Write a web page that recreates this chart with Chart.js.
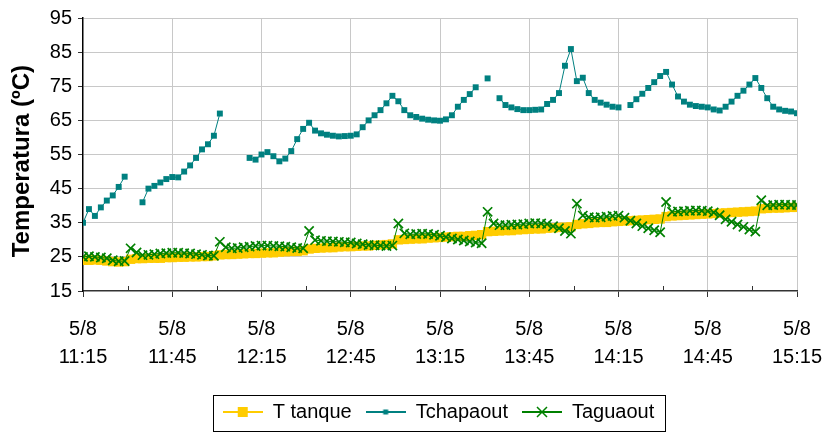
<!DOCTYPE html>
<html><head><meta charset="utf-8">
<script src="https://cdn.jsdelivr.net/npm/chart.js@4"></script>
<style>html,body{margin:0;padding:0;background:#fff}canvas{display:block}</style>
</head><body>
<canvas id="c" width="824" height="432"></canvas>
<script>
// minutes after 11:15 on 5/8
const minutes = [
  0,2,4,6,8,10,12,14,16,18,
  20,22,24,26,28,30,32,34,36,38,
  40,42,44,46,48,50,52,54,56,58,
  60,62,64,66,68,70,72,74,76,78,
  80,82,84,86,88,90,92,94,96,98,
  100,102,104,106,108,110,112,114,116,118,
  120,122,124,126,128,130,132,134,136,138,
  140,142,144,146,148,150,152,154,156,158,
  160,162,164,166,168,170,172,174,176,178,
  180,182,184,186,188,190,192,194,196,198,
  200,202,204,206,208,210,212,214,216,218,
  220,222,224,226,228,230,232,234,236,238,
  240
];
const dateLabel = '5/8';
const timeLabels = ['11:15','11:45','12:15','12:45','13:15','13:45','14:15','14:45','15:15'];
const seriesNames = ['T tanque','Tchapaout','Taguaout'];

const tTanque = [
  24, 24, 24.1, 24, 23.8, 23.6, 23.5, 23.6, 24.3, 24.5,
  24.5, 24.6, 24.6, 24.6, 24.8, 24.8, 24.9, 24.9, 25, 25,
  25.1, 25.1, 25.3, 25.6, 25.7, 25.7, 25.8, 25.9, 26, 26,
  26.1, 26.2, 26.2, 26.4, 26.5, 26.6, 26.6, 26.8, 27.3, 27.5,
  27.6, 27.7, 27.7, 27.9, 28, 28, 28.1, 28.2, 28.2, 28.4,
  28.5, 28.6, 28.8, 30, 30.1, 30.2, 30.3, 30.3, 30.5, 30.6,
  30.7, 30.8, 30.9, 31, 31, 31.2, 31.3, 31.5, 32.4, 32.5,
  32.6, 32.7, 32.7, 32.9, 33, 33.1, 33.2, 33.2, 33.4, 33.5,
  33.6, 33.7, 33.8, 34.5, 34.7, 34.8, 35, 35.1, 35.1, 35.3,
  35.4, 35.5, 35.6, 35.7, 35.8, 35.9, 36, 36.1, 36.8, 37,
  37.1, 37.2, 37.3, 37.4, 37.5, 37.6, 37.7, 37.8, 37.9, 38,
  38.1, 38.2, 38.3, 38.4, 39.1, 39.2, 39.3, 39.3, 39.4, 39.5,
  39.5
];
const tChapaout = [
  35, 39, 37, 39.5, 41.5, 43, 45.5, 48.5, null, null,
  41, 45, 45.8, 46.8, 47.8, 48.4, 48.3, 50, 51.8, 54,
  56.5, 58, 60.5, 67, null, null, null, null, 54, 53.5,
  55, 55.7, 54.5, 53, 53.8, 56, 59.5, 62.5, 64.3, 62,
  61.2, 60.8, 60.5, 60.3, 60.4, 60.5, 60.9, 63, 65, 66.5,
  68, 70, 72.2, 70.6, 68, 66.5, 66, 65.5, 65.2, 65,
  64.9, 65.3, 66.5, 69, 71, 72.7, 74.7, null, 77.3, null,
  71.5, 69.5, 68.8, 68.3, 68, 68, 68.1, 68.2, 69.8, 71,
  73, 81, 85.9, 76.5, 77.5, 73, 71, 70.2, 69.6, 69,
  68.8, null, 69.5, 71.2, 72.8, 74.5, 76.2, 78, 79.2, 75.5,
  72, 70.5, 69.6, 69.2, 69, 68.8, 68.2, 67.9, 69, 70.5,
  72.2, 73.7, 75.5, 77.4, 74.5, 71.5, 69, 68.2, 67.8, 67.6,
  67.1
];
const tAguaout = [
  25, 25.2, 25, 24.8, 24.6, 24, 23.7, 23.8, 27.5, 26.3,
  25.5, 25.6, 25.8, 26, 26.1, 26.2, 26.2, 26.1, 26, 25.8,
  25.6, 25.4, 25.3, 29.4, 27.8, 27.5, 27.6, 27.8, 28, 28.2,
  28.3, 28.3, 28.2, 28.1, 28, 27.8, 27.6, 27.5, 32.6, 29.9,
  29.7, 29.6, 29.5, 29.4, 29.3, 29.2, 28.9, 28.7, 28.5, 28.4,
  28.3, 28.2, 28.3, 34.8, 31.9, 31.6, 31.7, 31.8, 31.7, 31.5,
  31.2, 30.8, 30.4, 30.1, 29.8, 29.5, 29.2, 29, 38.2, 34.8,
  34.3, 34.3, 34.4, 34.5, 34.6, 34.8, 34.9, 34.8, 34.6, 34,
  33.4, 32.6, 31.8, 40.6, 37.1, 36.6, 36.5, 36.6, 36.8, 37,
  37.1, 36.5, 35.6, 34.8, 34, 33.4, 32.8, 32.2, 41.1, 38.2,
  38.3, 38.4, 38.5, 38.6, 38.5, 38.4, 38, 37.2, 36, 35.3,
  34.5, 33.8, 33, 32.4, 41.6, 40.1, 40.2, 40.3, 40.3, 40.2,
  40.2
];

const FONT = "'Liberation Sans', Arial, sans-serif";
const YELLOW = '#FFCC00', TEAL = '#008080', GREEN = '#008000';
const ICON_W = 40;

function legendIcon(color, kind) {
  const c = document.createElement('canvas');
  c.width = ICON_W; c.height = 16;
  const g = c.getContext('2d');
  const m = ICON_W / 2;
  g.strokeStyle = color; g.lineWidth = 2;
  g.beginPath(); g.moveTo(0, 8); g.lineTo(ICON_W, 8); g.stroke();
  g.fillStyle = color;
  if (kind === 'big') g.fillRect(m - 5, 3, 10, 10);
  else if (kind === 'small') g.fillRect(m - 2.5, 5.5, 5, 5);
  else { g.lineWidth = 1.5; g.beginPath(); g.moveTo(m - 5, 3); g.lineTo(m + 5, 13); g.moveTo(m + 5, 3); g.lineTo(m - 5, 13); g.stroke(); }
  return c;
}
const icons = [legendIcon(YELLOW, 'big'), legendIcon(TEAL, 'small'), legendIcon(GREEN, 'x')];

const extras = {
  id: 'extras',
  afterLayout(chart) {
    const lg = chart.legend;
    if (lg) {
      lg.left = 80; lg.right = 797; lg.width = lg.right - lg.left;
      if (typeof lg.adjustHitBoxes === 'function') lg.adjustHitBoxes();
    }
  },
  afterDraw(chart) {
    const ctx = chart.ctx, xs = chart.scales.x, bottom = chart.chartArea.bottom;
    ctx.save();
    ctx.strokeStyle = '#333'; ctx.lineWidth = 1;
    for (let t = 15; t < 240; t += 30) {
      const x = Math.round(xs.getPixelForValue(t)) + 0.5;
      ctx.beginPath(); ctx.moveTo(x, bottom); ctx.lineTo(x, bottom - 5); ctx.stroke();
    }
    const hb = chart.legend.legendHitBoxes;
    if (hb && hb.length) {
      const l = Math.min(...hb.map(h => h.left)) - 10;
      const r = Math.max(...hb.map(h => h.left + h.width)) + 10;
      ctx.strokeStyle = '#000';
      ctx.strokeRect(Math.round(l) + 0.5, 395.5, Math.round(r - l), 36);
    }
    ctx.restore();
  }
};

new Chart(document.getElementById('c'), {
  type: 'line',
  data: {
    labels: minutes,
    datasets: [
      { label: seriesNames[0], data: tTanque, borderColor: YELLOW, backgroundColor: YELLOW,
        borderWidth: 2, pointStyle: 'rect', pointRadius: 6.6, pointBorderWidth: 0, order: 3 },
      { label: seriesNames[1], data: tChapaout, borderColor: TEAL, backgroundColor: TEAL,
        borderWidth: 1, pointStyle: 'rect', pointRadius: 4.2, pointBorderWidth: 0, spanGaps: false, order: 2 },
      { label: seriesNames[2], data: tAguaout, borderColor: GREEN, backgroundColor: GREEN,
        borderWidth: 1, pointStyle: 'crossRot', pointRadius: 6.5, pointBorderWidth: 1.7, order: 1 }
    ]
  },
  options: {
    responsive: false, animation: false, devicePixelRatio: 1, events: [],
    layout: { padding: { left: 0, right: 27, top: 17, bottom: 0 } },
    elements: { line: { tension: 0 } },
    scales: {
      x: {
        type: 'linear', min: 0, max: 240,
        afterFit: s => { s.height = 97; s.paddingRight = 0; s.paddingLeft = 0; },
        ticks: {
          stepSize: 15, autoSkip: false, maxRotation: 0, color: '#000', padding: 18,
          font: { family: FONT, size: 20, lineHeight: 1.4 },
          callback: v => (v % 30 === 0 ? [dateLabel, timeLabels[v / 30]] : '')
        },
        grid: {
          color: c => (c.tick && c.tick.value % 30 === 0 && c.tick.value !== 0) ? '#c8c8c8' : 'rgba(0,0,0,0)',
          tickColor: c => (c.tick && c.tick.value % 30 === 0) ? '#333' : 'rgba(0,0,0,0)',
          tickLength: 6, lineWidth: 1
        },
        border: { color: '#333', width: 1.5 }
      },
      y: {
        min: 15, max: 95,
        afterFit: s => { s.width = 83; },
        ticks: { stepSize: 10, color: '#000', padding: 6, font: { family: FONT, size: 20 } },
        grid: {
          color: c => (c.tick && c.tick.value === 15) ? 'rgba(0,0,0,0)' : '#c8c8c8',
          tickColor: '#333', tickLength: 5, lineWidth: 1
        },
        border: { color: '#000', width: 1.5 },
        title: { display: true, text: 'Temperatura (ºC)  ', color: '#000',
          font: { family: FONT, size: 24, weight: 'bold' }, padding: { top: 8, bottom: 0 } }
      }
    },
    plugins: {
      tooltip: { enabled: false },
      legend: {
        position: 'bottom',
        labels: {
          usePointStyle: true, pointStyleWidth: ICON_W, padding: 14, color: '#000',
          font: { family: FONT, size: 20 },
          generateLabels: chart => chart.data.datasets.map((ds, i) => ({
            text: ds.label, pointStyle: icons[i], datasetIndex: i,
            fillStyle: ds.borderColor, strokeStyle: ds.borderColor, lineWidth: 0,
            hidden: false, fontColor: '#000'
          }))
        }
      }
    }
  },
  plugins: [extras]
});
</script>
</body></html>
